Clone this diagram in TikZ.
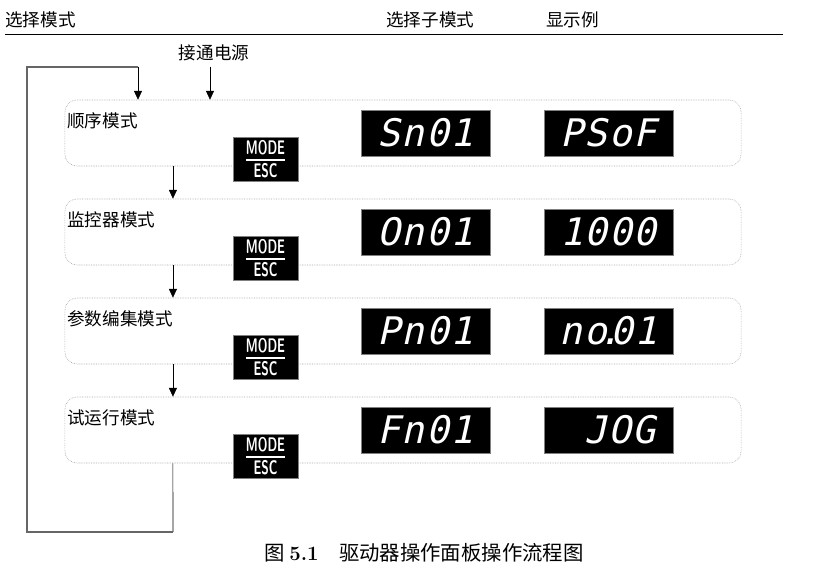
\documentclass[tikz,border=0pt]{standalone}
\usepackage{fontspec}
\usepackage{tikz}
\usetikzlibrary{arrows.meta}
\newfontfamily\cjk{Noto Sans CJK SC}
\newfontfamily\segfont[FakeSlant=0.22,LetterSpace=4]{DejaVu Sans Mono}
\newcommand{\modeesc}{\scalebox{0.62}[1]{MODE}\\[-9.5pt]\rule{0.95cm}{1.1pt}\\[-2pt]\scalebox{0.62}[1]{ESC}}
\tikzset{modebox/.style={
    draw=gray!70,
    dash pattern=on 0.5pt off 0.7pt,
    rounded corners=0.3cm,
    minimum width=16.9cm,
    minimum height=1.65cm
  },
  cjktext/.style={
    font=\cjk\fontsize{12.5}{15}\selectfont,
    inner sep=0pt
  },
  btn/.style={
    fill=black,
    draw=gray,
    text=white,
    align=center,
    inner sep=0pt,
    minimum width=1.625cm,
    minimum height=1.1cm,
    font=\sffamily\bfseries\fontsize{14}{14}\selectfont
  },
  seg/.style={
    fill=black,
    draw=gray,
    text=white,
    inner sep=0pt,
    minimum width=3.225cm,
    minimum height=1.15cm,
    font=\segfont\fontsize{27}{27}\selectfont
  },
  arr/.style={
    -{Triangle[length=2.2mm,width=2mm]},
    thin
  },
  loopline/.style={
    line width=0.9pt,
    black!60
  }
}

\begin{document}
\begin{tikzpicture}[x=0.025cm,y=-0.025cm]
  \useasboundingbox (0,0) rectangle (820,569);
  % header
  \node[cjktext,anchor=west] (hmode) at (5,20) {选择模式};
  \node[cjktext,anchor=west] (hsub) at (386,20) {选择子模式};
  \node[cjktext,anchor=west] (hdisp) at (546,20) {显示例};
  \coordinate (hl) at (5,34);
  \coordinate (hr) at (783,34);
  \draw[thin] (hl) -- (hr);
  % mode boxes
  \node[modebox] (seq) at (403,133) {};
  \node[modebox] (mon) at (403,232) {};
  \node[modebox] (par) at (403,331) {};
  \node[modebox] (trial) at (403,430) {};
  \node[cjktext,anchor=west] (lseq) at (67,121) {顺序模式};
  \node[cjktext,anchor=west] (lmon) at (67,220) {监控器模式};
  \node[cjktext,anchor=west] (lpar) at (67,319) {参数编集模式};
  \node[cjktext,anchor=west] (ltrial) at (67,418) {试运行模式};
  % MODE/ESC keys
  \node[btn] (kseq) at (265.5,159) {\modeesc};
  \node[btn] (kmon) at (265.5,258) {\modeesc};
  \node[btn] (kpar) at (265.5,357) {\modeesc};
  \node[btn] (ktrial) at (265.5,456) {\modeesc};
  % displays
  \node[seg] (sseq) at (425.5,133) {Sn01};
  \node[seg] (dseq) at (608.5,133) {PSoF};
  \node[seg] (smon) at (425.5,232) {On01};
  \node[seg] (dmon) at (608.5,232) {1000};
  \node[seg] (spar) at (425.5,331) {Pn01};
  \node[seg] (dpar) at (608.5,331) {no\kern-6pt.\kern-8pt01};
  \node[seg] (strial) at (425.5,430) {Fn01};
  \node[seg] (dtrial) at (608.5,430) {\hphantom{0}JOG};
  % connectors
  \draw[arr] ([xshift=-5.75cm]seq.south) -- ([xshift=-5.75cm]mon.north);
  \draw[arr] ([xshift=-5.75cm]mon.south) -- ([xshift=-5.75cm]par.north);
  \draw[arr] ([xshift=-5.75cm]par.south) -- ([xshift=-5.75cm]trial.north);
  \node[cjktext] (pwr) at (214,53) {接通电源};
  \coordinate (pw) at (210,67);
  \draw[arr] (pw) -- (pw |- seq.north);
  \coordinate (lp) at (173,532);
  \coordinate (lb) at (27,532);
  \coordinate (lt) at (27,67);
  \coordinate (lr) at (138,67);
  \draw[thin] ([xshift=-5.75cm]trial.south) -- (lp);
  \draw[loopline] (lp) -- (lb) -- (lt) -- (lr);
  \draw[arr] (lr) -- (lr |- seq.north);
  % caption
  \node[font=\cjk\fontsize{14.5}{17}\selectfont,inner sep=0pt] (cap) at (424,553)
    {图 {\fontspec{Latin Modern Roman}\bfseries 5.1}\quad 驱动器操作面板操作流程图};
\end{tikzpicture}
\end{document}
